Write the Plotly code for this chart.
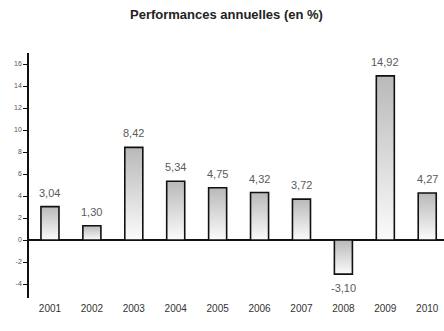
import plotly.graph_objects as go

# Annual performance data
years = ["2001", "2002", "2003", "2004", "2005", "2006", "2007", "2008", "2009", "2010"]
perf = [3.04, 1.30, 8.42, 5.34, 4.75, 4.32, 3.72, -3.10, 14.92, 4.27]
y_ticks = [-4, -2, 0, 2, 4, 6, 8, 10, 12, 14, 16]

BAR_W = 0.43
LIGHT = "#fbfbfb"
DARK = "#b9b9b9"
FONT = "Liberation Sans, Arial, sans-serif"

fig = go.Figure()

# Each bar is a filled polygon so it can carry a vertical gradient
for i, v in enumerate(perf):
    x0, x1 = i - BAR_W / 2, i + BAR_W / 2
    lo, hi = min(0, v), max(0, v)
    fig.add_trace(go.Scatter(
        x=[x0, x1, x1, x0, x0],
        y=[0, 0, v, v, 0],
        mode="lines",
        fill="toself",
        fillgradient=dict(type="vertical", colorscale=[[0, LIGHT], [1, DARK]],
                          start=lo, stop=hi),
        line=dict(color="#111111", width=1.6),
        hoverinfo="skip",
        showlegend=False,
    ))

# Value labels (French decimal comma), above positive bars and below negative ones
for i, v in enumerate(perf):
    fig.add_annotation(
        x=i, y=v, text=f"{v:.2f}".replace(".", ","),
        showarrow=False, yanchor="middle", xanchor="center",
        yshift=14 if v >= 0 else -14,
        font=dict(family=FONT, size=11, color="#5a5a5a"),
    )

fig.update_layout(
    width=444, height=331,
    margin=dict(l=29, r=0, t=53, b=33),
    paper_bgcolor="white", plot_bgcolor="white",
    title=dict(text="<b>Performances annuelles (en %)</b>", x=0.51, xanchor="center",
               y=0.955, yanchor="middle",
               font=dict(family=FONT, size=13, color="#222222")),
    xaxis=dict(
        range=[-0.5, 9.4],
        tickmode="array", tickvals=list(range(len(years))), ticktext=years,
        showgrid=False, zeroline=False, showline=False, ticks="",
        tickfont=dict(family=FONT, size=10, color="#333333"),
        ticklabelstandoff=3,
    ),
    yaxis=dict(
        range=[-5.27, 17.0],
        tickmode="array", tickvals=y_ticks, ticktext=[str(t) for t in y_ticks],
        showgrid=False,
        zeroline=True, zerolinecolor="#111111", zerolinewidth=1.6,
        showline=True, linecolor="#111111", linewidth=1.6,
        ticks="outside", ticklen=4, tickcolor="#111111", tickwidth=1,
        tickfont=dict(family=FONT, size=7, color="#555555"),
    ),
)

fig.write_html("out.html")
